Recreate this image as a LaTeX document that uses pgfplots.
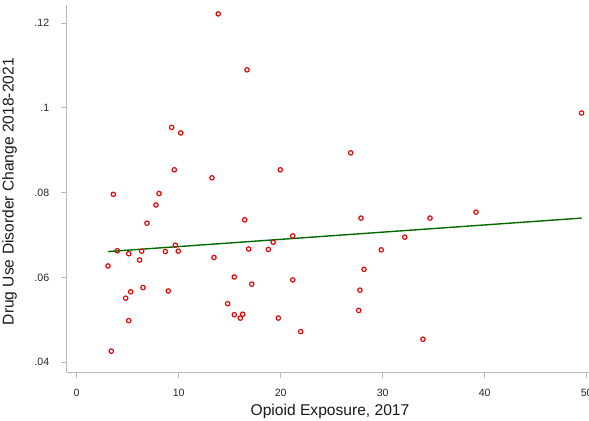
\documentclass[border=0pt]{standalone}
\usepackage{fontspec}
\setmainfont{Liberation Sans}
\usepackage{pgfplots}
\pgfplotsset{compat=1.18}
\definecolor{ptred}{RGB}{228,8,10}
\definecolor{fitgreen}{RGB}{0,105,0}
\definecolor{axgray}{RGB}{185,185,185}
\begin{document}
\begin{tikzpicture}
\useasboundingbox (-66.7bp,-48.7bp) rectangle (522.3bp,372.3bp);
\begin{axis}[
  at={(0,0)}, anchor=south west,
  scale only axis, width=526.6bp, height=367.3bp,
  xmin=-0.98, xmax=50.65, ymin=0.0376, ymax=0.1243,
  axis x line=bottom, axis y line=left,
  axis line style={-, draw=axgray, line width=1bp},
  tick style={draw=axgray, line width=1bp},
  tick align=outside, major tick length=6bp,
  xtick={0,10,20,30,40,50}, xticklabels={0,10,20,30,40,50},
  ytick={0.04,0.06,0.08,0.1,0.12}, yticklabels={.04,.06,.08,.1,.12},
  ticklabel style={font=\fontsize{10.6bp}{12bp}\selectfont, text=black!85},
  xticklabel style={yshift=-7.5bp},
  yticklabel style={xshift=-8bp},
  xlabel={Opioid Exposure, 2017},
  ylabel={Drug Use Disorder Change 2018-2021},
  label style={font=\fontsize{15.6bp}{18bp}\selectfont, text=black!90},
  x label style={at={(axis description cs:0.5,0)}, anchor=base, yshift=-42.7bp},
  y label style={at={([xshift=-53bp,yshift=-3bp]axis description cs:0,0.5)}, anchor=base},
]
\addplot[only marks, mark=o, mark size=2.2bp, mark options={draw=ptred, line width=1.2bp}] table {
x y
13.88 0.1222
16.70 0.1090
9.31 0.0954
10.20 0.0941
9.57 0.0854
13.26 0.0835
3.59 0.0796
8.07 0.0798
7.77 0.0771
6.89 0.0728
16.47 0.0736
3.98 0.0663
5.10 0.0656
6.37 0.0662
8.69 0.0661
9.67 0.0676
9.96 0.0662
16.86 0.0667
6.17 0.0641
3.07 0.0627
13.46 0.0647
15.45 0.0601
17.16 0.0584
6.50 0.0576
8.98 0.0568
5.29 0.0566
4.80 0.0551
14.80 0.0538
15.45 0.0512
16.27 0.0513
16.04 0.0504
5.10 0.0498
3.39 0.0426
26.86 0.0894
19.96 0.0854
27.87 0.0740
34.64 0.0740
39.15 0.0754
21.18 0.0698
32.16 0.0695
19.27 0.0683
18.79 0.0666
29.86 0.0665
28.17 0.0619
21.18 0.0594
27.77 0.0570
27.65 0.0522
19.77 0.0504
21.96 0.0472
33.95 0.0454
49.50 0.0988
};
\addplot[fitgreen, line width=1.4bp, no marks] coordinates {(3.07,0.0661) (49.5,0.0740)};
\end{axis}
\end{tikzpicture}
\end{document}
